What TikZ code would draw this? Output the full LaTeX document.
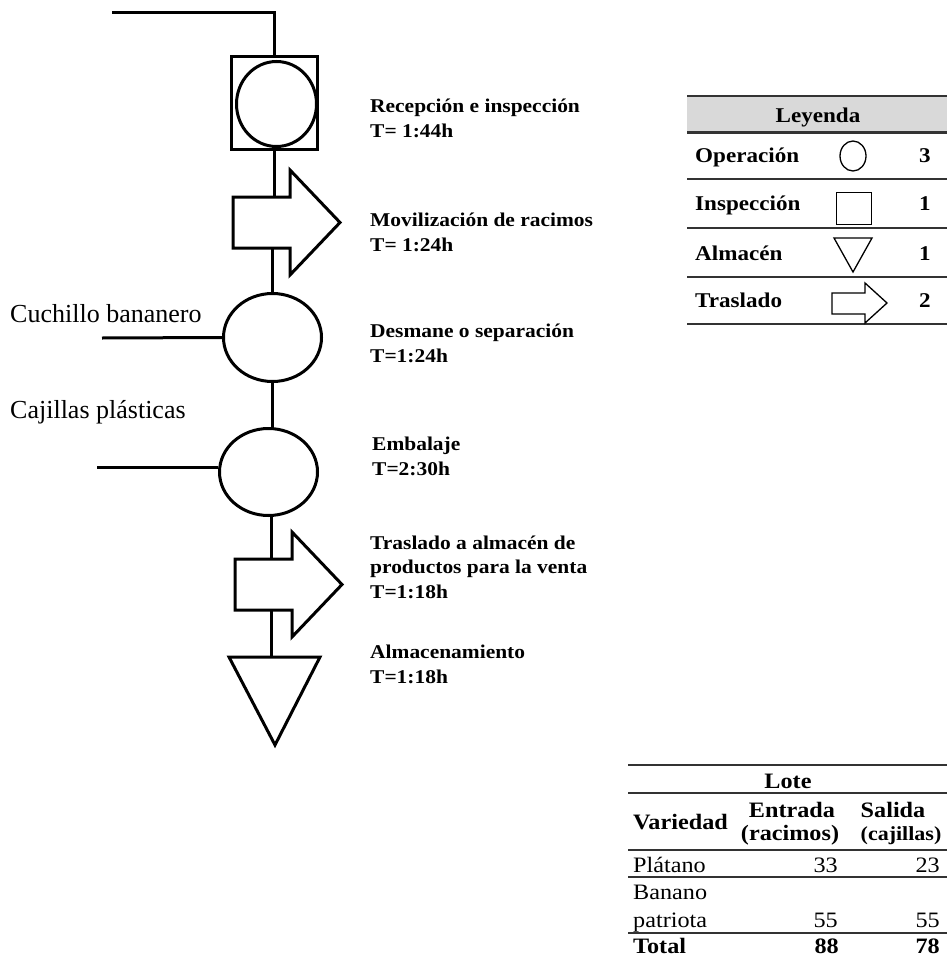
\documentclass[tikz,border=0pt]{standalone}
\usepackage{fontspec}
\setmainfont{Liberation Serif}[FakeStretch=1.1]
\newfontfamily\plainserif{Liberation Serif}
\usepackage{tikz}
\usetikzlibrary{shapes.geometric}
\usetikzlibrary{calc}

\begin{document}
\begin{tikzpicture}[x=1pt, y=-1pt,
    flow/.style = {line width=3pt, line join=miter},
    oper/.style = {draw, flow, ellipse, inner sep=0pt},
    insp/.style = {draw, flow, rectangle, inner sep=0pt},
   etapa/.style = {anchor=base west, align=left, inner sep=0pt,
                   font=\fontsize{19.5pt}{24.5pt}\selectfont\bfseries},
  insumo/.style = {anchor=base west, inner sep=0pt,
                   font=\plainserif\fontsize{26pt}{30pt}\selectfont},
   regla/.style = {line width=2pt, black!80},
     ley/.style = {anchor=base west, inner sep=0pt,
                   font=\fontsize{21pt}{25pt}\selectfont\bfseries},
   icono/.style = {draw, line width=1.3pt, inner sep=0pt},
   celda/.style = {anchor=base west, inner sep=0pt,
                   font=\fontsize{22pt}{26pt}\selectfont},
   negra/.style = {font=\fontsize{22pt}{26pt}\selectfont\bfseries},
   cifra/.style = {celda, anchor=base east}
                   ]
\useasboundingbox (0,0) rectangle (947,958);

% diagrama
\coordinate (entrada) at (112,13);
\node[insp, minimum width=86, minimum height=93] (insp) at (274.5,103) {};
\node[oper, minimum width=80, minimum height=85] (recep) at (276.5,104) {};
\node[oper, minimum width=98, minimum height=88] (des) at (272.5,337.5) {};
\node[oper, minimum width=98, minimum height=87] (emb) at (268.5,472) {};

\foreach \n/\x/\y in {mov/233/197, tras/235/559} {
  \draw[flow] (\x,\y) -- ++(57,0) -- ++(0,-27) -- ++(50,52.5) -- ++(-50,52.5)
              -- ++(0,-27) -- ++(-57,0) -- cycle;
  \coordinate (\n-top) at (\x,\y);
  \coordinate (\n-bot) at (\x,\y+51);
}
\draw[flow] (229,657) -- (320,657) -- (275,745) -- cycle;
\coordinate (alm-top) at (271,657);

\draw[flow] (entrada) -| (insp.north);
\draw[flow] (insp.south) -- (insp.south |- mov-top);
\draw[flow] (des.north |- mov-bot) -- (des.north);
\draw[flow] (des.south) -- (des.south |- emb.north);
\draw[flow] (alm-top |- emb.south) -- (alm-top |- tras-top);
\draw[flow] (alm-top |- tras-bot) -- (alm-top);

\coordinate (cuchillo) at (102,338);
\coordinate (cajillas) at (97,467);
\draw[flow] (cuchillo) -- (des.west);
\draw[flow] (cajillas) -- (cajillas -| emb.west);

\node[insumo] (t-cuch) at (10,322) {Cuchillo bananero};
\node[insumo] (t-caj)  at (10,418) {Cajillas plásticas};

\node[etapa] (e1) at (370,137) {Recepción e inspección\\T= 1:44h};
\node[etapa] (e2) at (370,251) {Movilización de racimos\\T= 1:24h};
\node[etapa] (e3) at (370,362) {Desmane o separación\\T=1:24h};
\node[etapa] (e4) at (372,475) {Embalaje\\T=2:30h};
\node[etapa] (e5) at (370,598) {Traslado a almacén de\\productos para la venta\\T=1:18h};
\node[etapa] (e6) at (370,683) {Almacenamiento\\T=1:18h};

% leyenda
\fill[gray!30] (687,96) rectangle (947,132);
\foreach \y in {96,179,228,277,324}
  \draw[regla] (687,\y) -- (947,\y);
\draw[regla, line width=3pt] (687,132) -- (947,132);
\node[ley, anchor=base] (leyenda) at (818,122) {Leyenda};
\foreach \t/\y/\c in {Operación/162/3, Inspección/210/1, Almacén/260/1, Traslado/307/2} {
  \node[ley] at (695,\y) {\t};
  \node[ley, anchor=base] at (925,\y) {\c};
}
\node[icono, ellipse, minimum width=26, minimum height=30] (l-op) at (853,156) {};
\node[icono, minimum width=35, minimum height=32] (l-insp) at (854,208.5) {};
\draw[line width=1.3pt] (834,238) -- (872,238) -- (853,272) -- cycle;
\draw[line width=1.3pt] (832,293) -- (865,293) -- (865,283) -- (887,303)
     -- (865,323) -- (865,314) -- (832,314) -- cycle;

% lote
\foreach \y in {765,793,850,877,933}
  \draw[regla, line width=1.7pt] (628,\y) -- (947,\y);
\node[celda, negra, anchor=base] at (788,788) {Lote};
\node[celda, negra] at (633,829) {Variedad};
\node[celda, negra, anchor=base] at (792,817) {Entrada};
\node[celda, negra, anchor=base] at (790,840) {(racimos)};
\node[celda, negra, anchor=base] at (893,817) {Salida};
\node[celda, negra, anchor=base, font=\fontsize{20pt}{24pt}\selectfont\bfseries] at (901,840) {(cajillas)};
\node[celda] at (633,872) {Plátano};
\node[cifra] at (838,872) {33};
\node[cifra] at (940,872) {23};
\node[celda] at (633,899) {Banano};
\node[celda] at (633,927) {patriota};
\node[cifra] at (838,927) {55};
\node[cifra] at (940,927) {55};
\node[celda, negra] at (633,953) {Total};
\node[cifra, negra] at (839,953) {88};
\node[cifra, negra] at (940,953) {78};
\end{tikzpicture}
\end{document}
